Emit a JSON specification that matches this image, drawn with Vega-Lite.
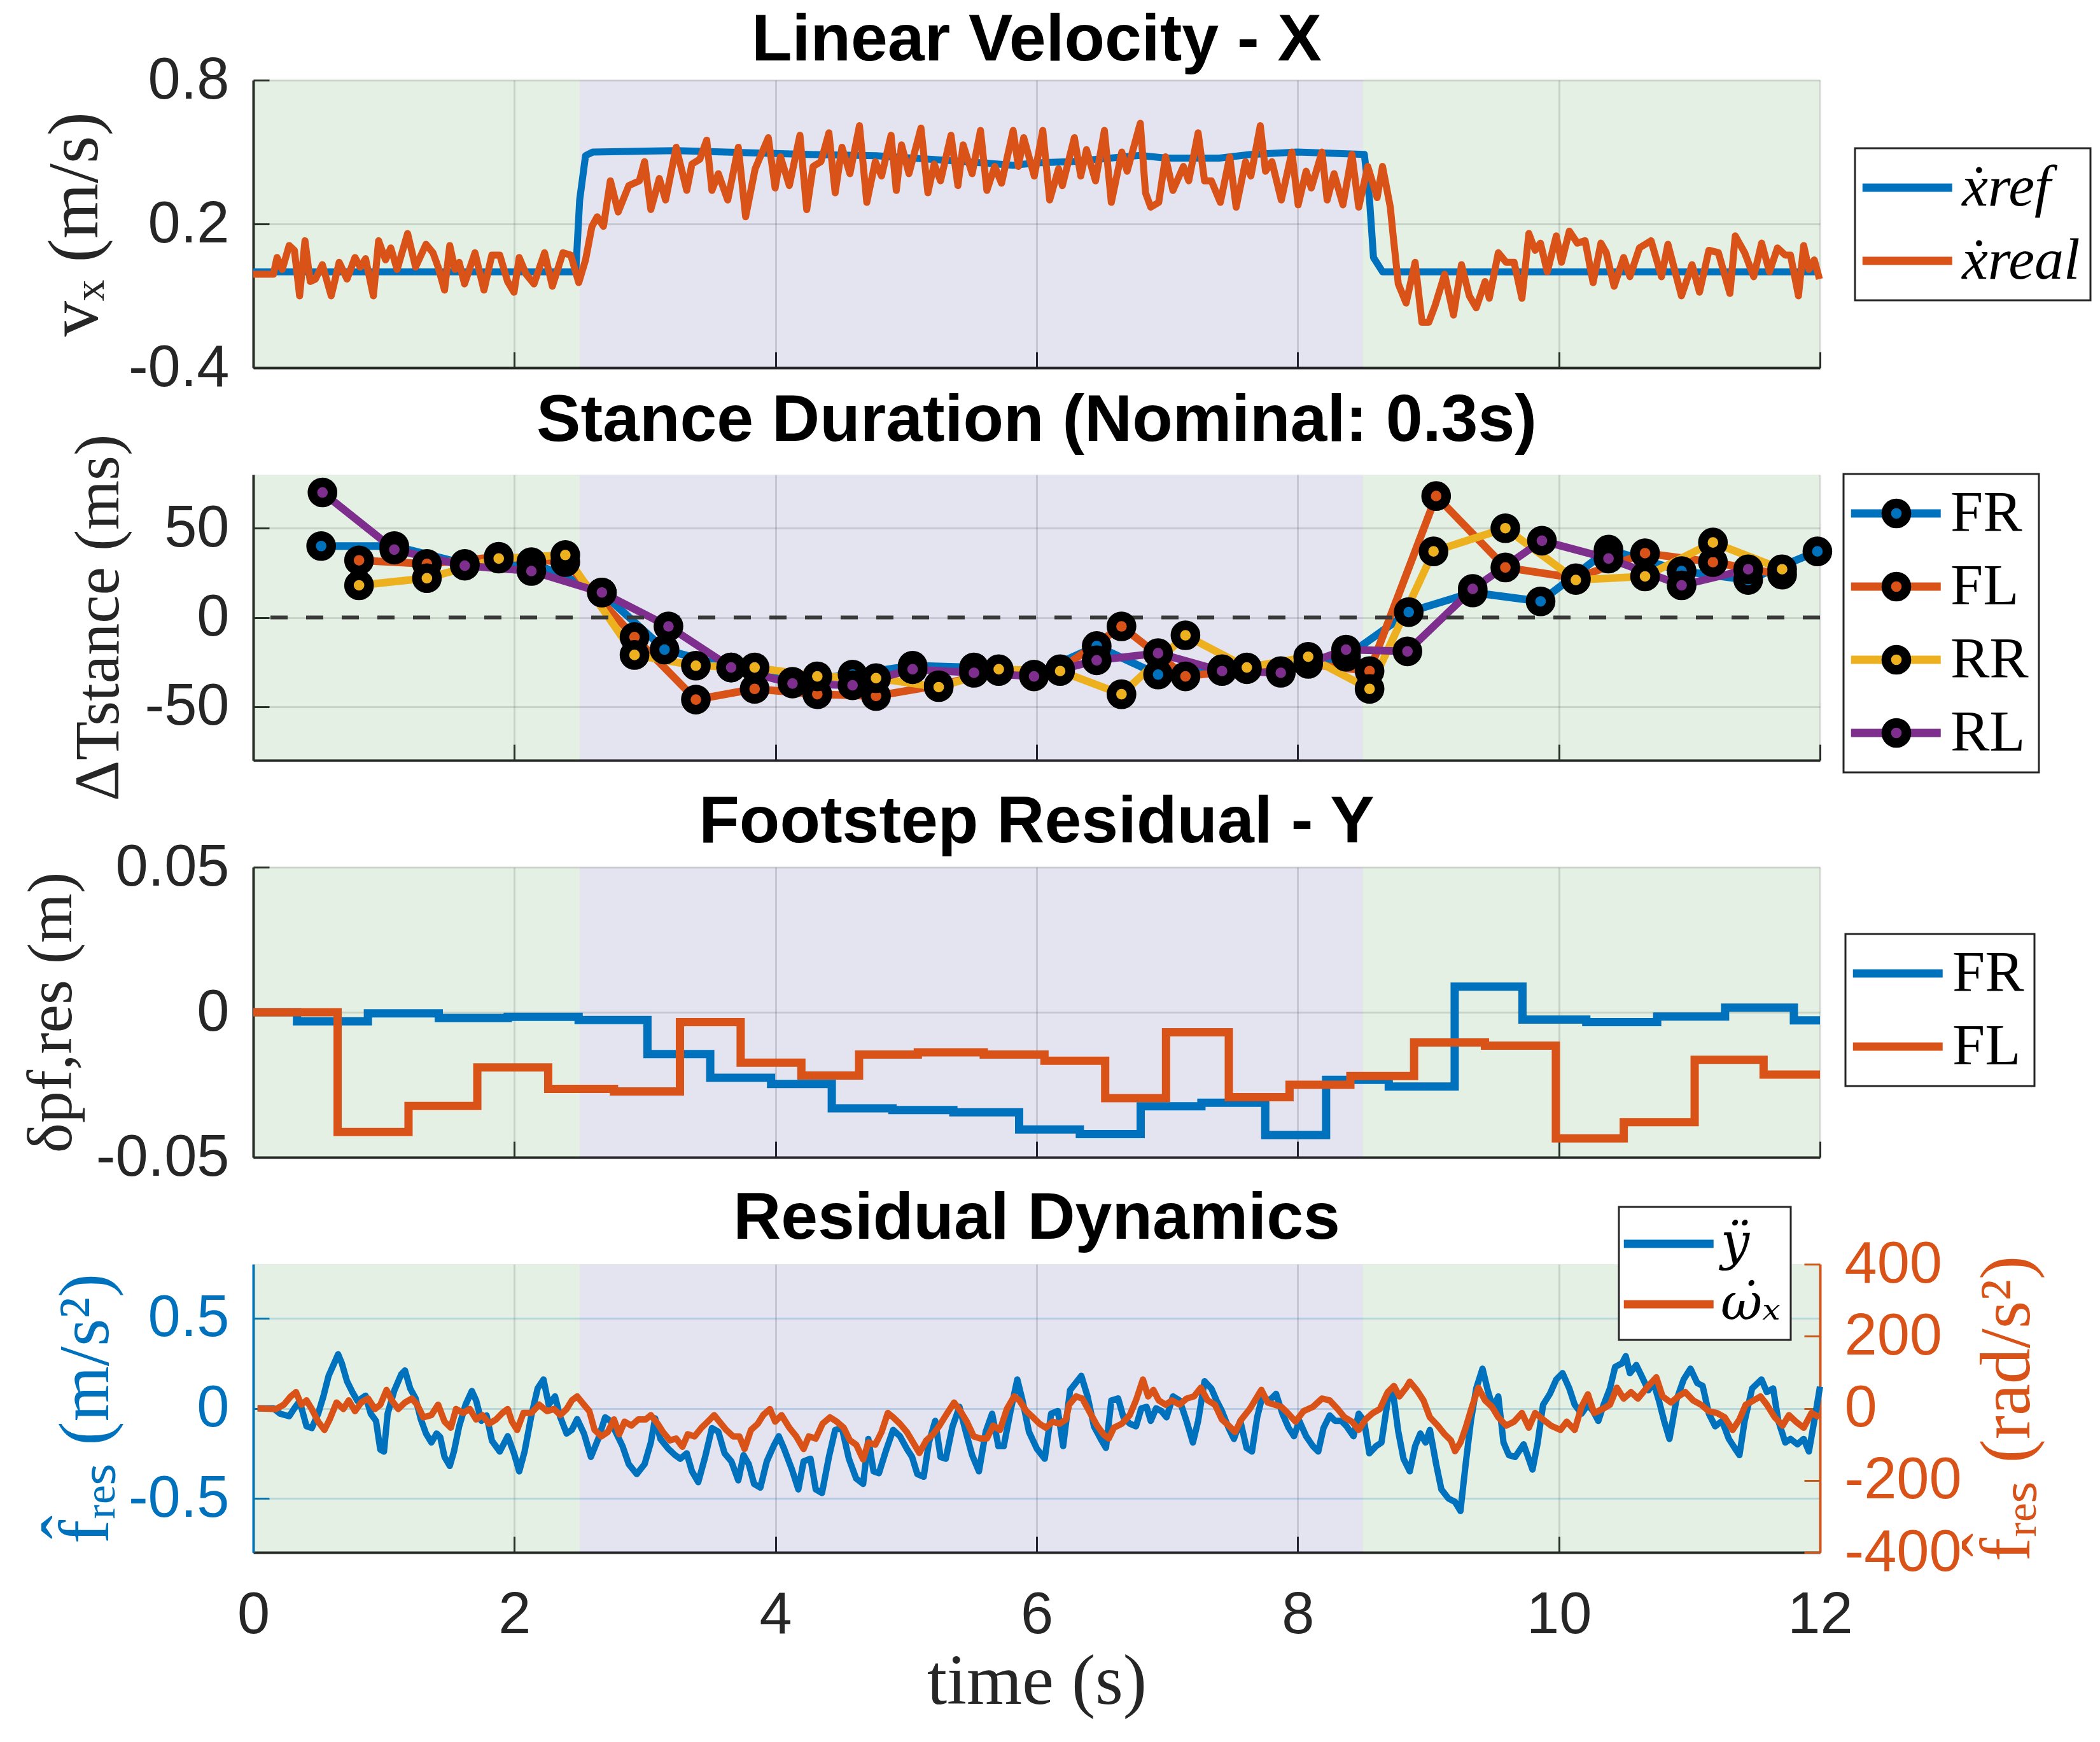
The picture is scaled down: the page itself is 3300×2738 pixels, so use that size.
{
"$schema":"https://vega.github.io/schema/vega-lite/v6.json",
"background":"white",
"padding":{"left":31,"top":12,"right":10,"bottom":40},
"config":{
 "font":"Liberation Sans",
 "view":{"stroke":null},
 "axis":{"domainColor":"#262626","domainWidth":4,"tickColor":"#262626","tickWidth":3,"tickSize":-25,"labelFont":"Liberation Sans","labelFontSize":92,"labelColor":"#262626","labelLimit":0,"gridColor":"#262626","gridOpacity":0.15,"gridWidth":3,"titleFont":"Liberation Serif","titleFontSize":112,"titleFontWeight":"normal","titleColor":"#262626"},
 "axisY":{"labelPadding":63,"titlePadding":8},
 "axisX":{"labelPadding":78,"titlePadding":5,"labelFlush":false},
 "title":{"font":"Liberation Sans","fontSize":104,"fontWeight":"bold","color":"black","anchor":"middle","frame":"group"},
 "legend":{"orient":"none","strokeColor":"#262626","strokeWidth":3,"fillColor":"white","padding":16,"labelFont":"Liberation Serif","labelFontSize":92,"labelColor":"black","rowPadding":23,"labelLimit":0,"symbolType":"M-1,0L3,0","symbolSize":4970,"symbolStrokeWidth":13,"symbolOffset":-15,"labelOffset":75,"symbolOpacity":1}
},
"datasets":{
 "phases":[{"t0":0,"t1":2.5,"phase":"stand"},{"t0":2.5,"t1":8.5,"phase":"walk"},{"t0":8.5,"t1":12,"phase":"stand"}],
 "vx_ref":[{"t":0,"v":0},{"t":2.47,"v":0},{"t":2.5,"v":0.3},{"t":2.545,"v":0.485},{"t":2.6,"v":0.5},{"t":3.24,"v":0.506},{"t":4.25,"v":0.49},{"t":4.77,"v":0.485},{"t":5.38,"v":0.463},{"t":5.82,"v":0.445},{"t":6.0,"v":0.455},{"t":6.27,"v":0.46},{"t":6.79,"v":0.486},{"t":6.99,"v":0.475},{"t":7.4,"v":0.475},{"t":7.64,"v":0.49},{"t":8.0,"v":0.5},{"t":8.51,"v":0.49},{"t":8.55,"v":0.3},{"t":8.58,"v":0.06},{"t":8.65,"v":0},{"t":12,"v":0}],
 "vx_real":[{"t":0,"v":-0.01},{"t":0.154,"v":-0.01},{"t":0.182,"v":0.06},{"t":0.222,"v":0.01},{"t":0.275,"v":0.11},{"t":0.315,"v":0.09},{"t":0.355,"v":-0.1},{"t":0.396,"v":0.13},{"t":0.436,"v":-0.04},{"t":0.476,"v":-0.03},{"t":0.529,"v":0.03},{"t":0.597,"v":-0.1},{"t":0.658,"v":0.04},{"t":0.718,"v":-0.03},{"t":0.779,"v":0.06},{"t":0.819,"v":0.02},{"t":0.86,"v":0.055},{"t":0.92,"v":-0.1},{"t":0.96,"v":0.13},{"t":1.013,"v":0.05},{"t":1.053,"v":0.1},{"t":1.102,"v":0.01},{"t":1.182,"v":0.16},{"t":1.243,"v":0.02},{"t":1.323,"v":0.115},{"t":1.376,"v":0.08},{"t":1.416,"v":0.02},{"t":1.465,"v":-0.076},{"t":1.505,"v":0.11},{"t":1.545,"v":0.01},{"t":1.577,"v":0.04},{"t":1.618,"v":-0.05},{"t":1.698,"v":0.08},{"t":1.767,"v":-0.076},{"t":1.827,"v":0.07},{"t":1.888,"v":0.07},{"t":1.948,"v":-0.04},{"t":1.997,"v":-0.085},{"t":2.037,"v":0.06},{"t":2.09,"v":-0.01},{"t":2.15,"v":-0.05},{"t":2.231,"v":0.08},{"t":2.291,"v":-0.06},{"t":2.372,"v":0.08},{"t":2.432,"v":0.07},{"t":2.493,"v":-0.045},{"t":2.545,"v":0.05},{"t":2.594,"v":0.19},{"t":2.634,"v":0.23},{"t":2.682,"v":0.19},{"t":2.735,"v":0.38},{"t":2.795,"v":0.25},{"t":2.876,"v":0.36},{"t":2.957,"v":0.38},{"t":2.997,"v":0.46},{"t":3.045,"v":0.26},{"t":3.11,"v":0.39},{"t":3.158,"v":0.3},{"t":3.239,"v":0.52},{"t":3.32,"v":0.34},{"t":3.36,"v":0.45},{"t":3.42,"v":0.47},{"t":3.473,"v":0.55},{"t":3.513,"v":0.34},{"t":3.562,"v":0.41},{"t":3.634,"v":0.3},{"t":3.715,"v":0.52},{"t":3.771,"v":0.23},{"t":3.844,"v":0.43},{"t":3.945,"v":0.56},{"t":3.997,"v":0.35},{"t":4.038,"v":0.48},{"t":4.106,"v":0.36},{"t":4.187,"v":0.57},{"t":4.239,"v":0.26},{"t":4.288,"v":0.44},{"t":4.348,"v":0.46},{"t":4.409,"v":0.58},{"t":4.457,"v":0.33},{"t":4.509,"v":0.52},{"t":4.57,"v":0.41},{"t":4.643,"v":0.61},{"t":4.699,"v":0.29},{"t":4.764,"v":0.46},{"t":4.812,"v":0.4},{"t":4.885,"v":0.57},{"t":4.925,"v":0.34},{"t":4.965,"v":0.53},{"t":5.022,"v":0.41},{"t":5.114,"v":0.6},{"t":5.167,"v":0.33},{"t":5.215,"v":0.45},{"t":5.264,"v":0.38},{"t":5.344,"v":0.57},{"t":5.397,"v":0.36},{"t":5.437,"v":0.53},{"t":5.506,"v":0.41},{"t":5.57,"v":0.59},{"t":5.619,"v":0.34},{"t":5.679,"v":0.44},{"t":5.731,"v":0.37},{"t":5.82,"v":0.59},{"t":5.86,"v":0.44},{"t":5.901,"v":0.56},{"t":5.982,"v":0.4},{"t":6.047,"v":0.59},{"t":6.1,"v":0.3},{"t":6.168,"v":0.43},{"t":6.197,"v":0.36},{"t":6.289,"v":0.56},{"t":6.338,"v":0.4},{"t":6.382,"v":0.51},{"t":6.451,"v":0.38},{"t":6.519,"v":0.59},{"t":6.572,"v":0.29},{"t":6.652,"v":0.5},{"t":6.693,"v":0.42},{"t":6.794,"v":0.62},{"t":6.834,"v":0.33},{"t":6.874,"v":0.27},{"t":6.935,"v":0.29},{"t":6.987,"v":0.48},{"t":7.044,"v":0.34},{"t":7.124,"v":0.44},{"t":7.165,"v":0.38},{"t":7.237,"v":0.58},{"t":7.286,"v":0.38},{"t":7.338,"v":0.38},{"t":7.407,"v":0.29},{"t":7.479,"v":0.48},{"t":7.528,"v":0.27},{"t":7.6,"v":0.46},{"t":7.641,"v":0.4},{"t":7.713,"v":0.61},{"t":7.753,"v":0.42},{"t":7.802,"v":0.46},{"t":7.874,"v":0.3},{"t":7.955,"v":0.5},{"t":8.003,"v":0.28},{"t":8.064,"v":0.42},{"t":8.104,"v":0.35},{"t":8.185,"v":0.5},{"t":8.225,"v":0.3},{"t":8.278,"v":0.41},{"t":8.346,"v":0.28},{"t":8.415,"v":0.49},{"t":8.467,"v":0.27},{"t":8.536,"v":0.44},{"t":8.608,"v":0.31},{"t":8.649,"v":0.44},{"t":8.709,"v":0.27},{"t":8.729,"v":0.16},{"t":8.77,"v":-0.05},{"t":8.83,"v":-0.13},{"t":8.899,"v":0.04},{"t":8.951,"v":-0.21},{"t":9.004,"v":-0.21},{"t":9.052,"v":-0.14},{"t":9.125,"v":-0.01},{"t":9.193,"v":-0.18},{"t":9.254,"v":0.03},{"t":9.314,"v":-0.1},{"t":9.367,"v":-0.15},{"t":9.435,"v":-0.04},{"t":9.467,"v":-0.11},{"t":9.536,"v":0.08},{"t":9.596,"v":0.04},{"t":9.657,"v":0.04},{"t":9.717,"v":-0.11},{"t":9.77,"v":0.16},{"t":9.818,"v":0.09},{"t":9.859,"v":0.12},{"t":9.911,"v":0},{"t":9.98,"v":0.15},{"t":10.02,"v":0.04},{"t":10.08,"v":0.17},{"t":10.141,"v":0.12},{"t":10.201,"v":0.13},{"t":10.262,"v":-0.045},{"t":10.322,"v":0.12},{"t":10.363,"v":0.08},{"t":10.423,"v":-0.06},{"t":10.496,"v":0.06},{"t":10.544,"v":-0.02},{"t":10.617,"v":0.1},{"t":10.706,"v":0.13},{"t":10.786,"v":-0.02},{"t":10.835,"v":0.115},{"t":10.939,"v":-0.1},{"t":11.02,"v":0.03},{"t":11.077,"v":-0.085},{"t":11.149,"v":0.09},{"t":11.222,"v":0.08},{"t":11.31,"v":-0.09},{"t":11.351,"v":0.15},{"t":11.423,"v":0.08},{"t":11.492,"v":-0.02},{"t":11.553,"v":0.12},{"t":11.613,"v":0},{"t":11.674,"v":0.1},{"t":11.734,"v":0.07},{"t":11.774,"v":0.07},{"t":11.835,"v":-0.1},{"t":11.875,"v":0.11},{"t":11.915,"v":0.01},{"t":11.956,"v":0.05},{"t":11.996,"v":-0.03}],
 "stance":[
  {"t":0.52,"v":40,"leg":"FR"},{"t":1.08,"v":40,"leg":"FR"},{"t":1.62,"v":30,"leg":"FR"},{"t":2.13,"v":31,"leg":"FR"},{"t":2.67,"v":14,"leg":"FR"},{"t":3.15,"v":-18,"leg":"FR"},{"t":3.66,"v":-28,"leg":"FR"},{"t":4.13,"v":-36,"leg":"FR"},{"t":4.59,"v":-32,"leg":"FR"},{"t":5.05,"v":-27,"leg":"FR"},{"t":5.52,"v":-28,"leg":"FR"},{"t":5.98,"v":-32,"leg":"FR"},{"t":6.46,"v":-16,"leg":"FR"},{"t":6.93,"v":-32,"leg":"FR"},{"t":7.42,"v":-29,"leg":"FR"},{"t":7.87,"v":-30,"leg":"FR"},{"t":8.37,"v":-22,"leg":"FR"},{"t":8.85,"v":3,"leg":"FR"},{"t":9.34,"v":14,"leg":"FR"},{"t":9.86,"v":9,"leg":"FR"},{"t":10.38,"v":38,"leg":"FR"},{"t":10.94,"v":26,"leg":"FR"},{"t":11.45,"v":21,"leg":"FR"},{"t":11.98,"v":37,"leg":"FR"},
  {"t":0.81,"v":32,"leg":"FL"},{"t":1.33,"v":30,"leg":"FL"},{"t":1.88,"v":34,"leg":"FL"},{"t":2.39,"v":31,"leg":"FL"},{"t":2.92,"v":-11,"leg":"FL"},{"t":3.39,"v":-46,"leg":"FL"},{"t":3.84,"v":-40,"leg":"FL"},{"t":4.32,"v":-43,"leg":"FL"},{"t":4.77,"v":-44,"leg":"FL"},{"t":5.25,"v":-38,"leg":"FL"},{"t":5.71,"v":-30,"leg":"FL"},{"t":6.18,"v":-29,"leg":"FL"},{"t":6.65,"v":-5,"leg":"FL"},{"t":7.14,"v":-33,"leg":"FL"},{"t":7.61,"v":-29,"leg":"FL"},{"t":8.08,"v":-26,"leg":"FL"},{"t":8.55,"v":-30,"leg":"FL"},{"t":9.06,"v":68,"leg":"FL"},{"t":9.59,"v":28,"leg":"FL"},{"t":10.13,"v":22,"leg":"FL"},{"t":10.66,"v":36,"leg":"FL"},{"t":11.18,"v":31,"leg":"FL"},{"t":11.71,"v":24,"leg":"FL"},
  {"t":0.81,"v":18,"leg":"RR"},{"t":1.33,"v":22,"leg":"RR"},{"t":1.88,"v":33,"leg":"RR"},{"t":2.39,"v":35,"leg":"RR"},{"t":2.92,"v":-21,"leg":"RR"},{"t":3.39,"v":-27,"leg":"RR"},{"t":3.84,"v":-28,"leg":"RR"},{"t":4.32,"v":-33,"leg":"RR"},{"t":4.77,"v":-34,"leg":"RR"},{"t":5.25,"v":-39,"leg":"RR"},{"t":5.71,"v":-29,"leg":"RR"},{"t":6.18,"v":-30,"leg":"RR"},{"t":6.65,"v":-43,"leg":"RR"},{"t":7.14,"v":-10,"leg":"RR"},{"t":7.61,"v":-28,"leg":"RR"},{"t":8.08,"v":-22,"leg":"RR"},{"t":8.55,"v":-40,"leg":"RR"},{"t":9.04,"v":37,"leg":"RR"},{"t":9.59,"v":50,"leg":"RR"},{"t":10.13,"v":21,"leg":"RR"},{"t":10.66,"v":23,"leg":"RR"},{"t":11.18,"v":42,"leg":"RR"},{"t":11.71,"v":27,"leg":"RR"},
  {"t":0.53,"v":70,"leg":"RL"},{"t":1.08,"v":38,"leg":"RL"},{"t":1.62,"v":29,"leg":"RL"},{"t":2.13,"v":26,"leg":"RL"},{"t":2.67,"v":14,"leg":"RL"},{"t":3.18,"v":-5,"leg":"RL"},{"t":3.66,"v":-28,"leg":"RL"},{"t":4.13,"v":-37,"leg":"RL"},{"t":4.59,"v":-38,"leg":"RL"},{"t":5.05,"v":-29,"leg":"RL"},{"t":5.52,"v":-31,"leg":"RL"},{"t":5.98,"v":-33,"leg":"RL"},{"t":6.46,"v":-24,"leg":"RL"},{"t":6.93,"v":-20,"leg":"RL"},{"t":7.42,"v":-30,"leg":"RL"},{"t":7.87,"v":-31,"leg":"RL"},{"t":8.37,"v":-18,"leg":"RL"},{"t":8.84,"v":-19,"leg":"RL"},{"t":9.34,"v":16,"leg":"RL"},{"t":9.87,"v":43,"leg":"RL"},{"t":10.38,"v":33,"leg":"RL"},{"t":10.94,"v":18,"leg":"RL"},{"t":11.45,"v":27,"leg":"RL"}],
 "foot_fr":[{"t":0,"v":0},{"t":0.335,"v":-0.0031},{"t":0.878,"v":-0.0004},{"t":1.421,"v":-0.002},{"t":1.949,"v":-0.0016},{"t":2.492,"v":-0.0027},{"t":3.019,"v":-0.0144},{"t":3.5,"v":-0.0226},{"t":3.966,"v":-0.0247},{"t":4.431,"v":-0.0331},{"t":4.896,"v":-0.0337},{"t":5.362,"v":-0.0345},{"t":5.866,"v":-0.0404},{"t":6.331,"v":-0.042},{"t":6.797,"v":-0.0324},{"t":7.262,"v":-0.0312},{"t":7.751,"v":-0.0423},{"t":8.217,"v":-0.0233},{"t":8.697,"v":-0.0256},{"t":9.202,"v":0.0088},{"t":9.721,"v":-0.0025},{"t":10.21,"v":-0.0034},{"t":10.753,"v":-0.0015},{"t":11.273,"v":0.0016},{"t":11.8,"v":-0.0028},{"t":12,"v":-0.0028}],
 "foot_fl":[{"t":0,"v":0},{"t":0.646,"v":-0.0413},{"t":1.189,"v":-0.0323},{"t":1.716,"v":-0.019},{"t":2.259,"v":-0.0264},{"t":2.763,"v":-0.0273},{"t":3.268,"v":-0.0034},{"t":3.733,"v":-0.0174},{"t":4.198,"v":-0.0218},{"t":4.64,"v":-0.0146},{"t":5.09,"v":-0.0138},{"t":5.595,"v":-0.0146},{"t":6.06,"v":-0.0167},{"t":6.525,"v":-0.0296},{"t":6.991,"v":-0.0069},{"t":7.472,"v":-0.0293},{"t":7.937,"v":-0.025},{"t":8.403,"v":-0.022},{"t":8.891,"v":-0.0104},{"t":9.434,"v":-0.0115},{"t":9.977,"v":-0.0435},{"t":10.497,"v":-0.0379},{"t":11.04,"v":-0.0164},{"t":11.568,"v":-0.0215},{"t":12,"v":-0.0215}],
 "dyn_y":[{"t":0.033,"v":0},{"t":0.154,"v":0},{"t":0.206,"v":-0.03},{"t":0.275,"v":-0.044},{"t":0.315,"v":0},{"t":0.355,"v":0.04},{"t":0.408,"v":-0.1},{"t":0.448,"v":-0.11},{"t":0.497,"v":-0.03},{"t":0.537,"v":0.066},{"t":0.577,"v":0.18},{"t":0.626,"v":0.26},{"t":0.65,"v":0.3},{"t":0.678,"v":0.25},{"t":0.718,"v":0.15},{"t":0.759,"v":0.09},{"t":0.799,"v":0.04},{"t":0.86,"v":0.07},{"t":0.9,"v":-0.03},{"t":0.94,"v":-0.07},{"t":0.973,"v":-0.23},{"t":1.001,"v":-0.24},{"t":1.029,"v":-0.03},{"t":1.081,"v":0.1},{"t":1.134,"v":0.19},{"t":1.162,"v":0.21},{"t":1.202,"v":0.11},{"t":1.243,"v":0.055},{"t":1.283,"v":-0.06},{"t":1.323,"v":-0.14},{"t":1.364,"v":-0.19},{"t":1.404,"v":-0.14},{"t":1.432,"v":-0.16},{"t":1.465,"v":-0.27},{"t":1.505,"v":-0.32},{"t":1.537,"v":-0.24},{"t":1.577,"v":-0.1},{"t":1.626,"v":0.02},{"t":1.674,"v":0.096},{"t":1.707,"v":0.043},{"t":1.747,"v":-0.07},{"t":1.787,"v":-0.04},{"t":1.828,"v":-0.18},{"t":1.888,"v":-0.24},{"t":1.949,"v":-0.155},{"t":1.997,"v":-0.25},{"t":2.037,"v":-0.35},{"t":2.078,"v":-0.24},{"t":2.13,"v":-0.04},{"t":2.178,"v":0.11},{"t":2.223,"v":0.16},{"t":2.263,"v":0.02},{"t":2.311,"v":0.066},{"t":2.352,"v":-0.05},{"t":2.4,"v":-0.14},{"t":2.44,"v":-0.12},{"t":2.481,"v":-0.06},{"t":2.533,"v":-0.14},{"t":2.586,"v":-0.27},{"t":2.642,"v":-0.17},{"t":2.695,"v":-0.05},{"t":2.735,"v":-0.07},{"t":2.775,"v":-0.13},{"t":2.828,"v":-0.21},{"t":2.876,"v":-0.31},{"t":2.937,"v":-0.365},{"t":2.997,"v":-0.31},{"t":3.045,"v":-0.19},{"t":3.078,"v":-0.056},{"t":3.118,"v":-0.17},{"t":3.179,"v":-0.225},{"t":3.231,"v":-0.26},{"t":3.271,"v":-0.28},{"t":3.32,"v":-0.25},{"t":3.36,"v":-0.35},{"t":3.408,"v":-0.41},{"t":3.461,"v":-0.27},{"t":3.513,"v":-0.11},{"t":3.562,"v":-0.13},{"t":3.61,"v":-0.25},{"t":3.662,"v":-0.295},{"t":3.715,"v":-0.4},{"t":3.755,"v":-0.26},{"t":3.795,"v":-0.31},{"t":3.836,"v":-0.42},{"t":3.884,"v":-0.44},{"t":3.933,"v":-0.295},{"t":3.985,"v":-0.21},{"t":4.025,"v":-0.155},{"t":4.066,"v":-0.225},{"t":4.126,"v":-0.34},{"t":4.175,"v":-0.45},{"t":4.215,"v":-0.295},{"t":4.268,"v":-0.28},{"t":4.308,"v":-0.45},{"t":4.356,"v":-0.47},{"t":4.409,"v":-0.27},{"t":4.457,"v":-0.12},{"t":4.509,"v":-0.11},{"t":4.562,"v":-0.28},{"t":4.618,"v":-0.39},{"t":4.671,"v":-0.42},{"t":4.711,"v":-0.17},{"t":4.751,"v":-0.35},{"t":4.792,"v":-0.36},{"t":4.844,"v":-0.24},{"t":4.901,"v":-0.12},{"t":4.953,"v":-0.155},{"t":5.006,"v":-0.225},{"t":5.046,"v":-0.27},{"t":5.086,"v":-0.365},{"t":5.135,"v":-0.38},{"t":5.175,"v":-0.19},{"t":5.223,"v":-0.07},{"t":5.264,"v":-0.27},{"t":5.304,"v":-0.28},{"t":5.356,"v":-0.1},{"t":5.409,"v":0.008},{"t":5.457,"v":-0.13},{"t":5.506,"v":-0.26},{"t":5.558,"v":-0.35},{"t":5.61,"v":-0.13},{"t":5.659,"v":-0.03},{"t":5.707,"v":-0.21},{"t":5.748,"v":-0.21},{"t":5.8,"v":-0.015},{"t":5.852,"v":0.16},{"t":5.893,"v":0.04},{"t":5.941,"v":-0.13},{"t":6.002,"v":-0.225},{"t":6.062,"v":-0.28},{"t":6.111,"v":-0.03},{"t":6.163,"v":-0.015},{"t":6.203,"v":-0.21},{"t":6.256,"v":0.1},{"t":6.342,"v":0.18},{"t":6.39,"v":0.066},{"t":6.439,"v":-0.1},{"t":6.491,"v":-0.17},{"t":6.531,"v":-0.22},{"t":6.572,"v":0.043},{"t":6.624,"v":0.055},{"t":6.665,"v":-0.05},{"t":6.713,"v":-0.085},{"t":6.761,"v":-0.1},{"t":6.802,"v":0},{"t":6.842,"v":0.008},{"t":6.874,"v":-0.07},{"t":6.915,"v":0},{"t":6.955,"v":-0.015},{"t":6.995,"v":-0.05},{"t":7.044,"v":0.066},{"t":7.096,"v":0.043},{"t":7.148,"v":-0.07},{"t":7.197,"v":-0.19},{"t":7.237,"v":-0.07},{"t":7.286,"v":0.15},{"t":7.338,"v":0.11},{"t":7.378,"v":0.043},{"t":7.419,"v":-0.015},{"t":7.471,"v":-0.11},{"t":7.511,"v":-0.17},{"t":7.56,"v":-0.07},{"t":7.608,"v":-0.22},{"t":7.649,"v":-0.24},{"t":7.689,"v":-0.05},{"t":7.729,"v":0.066},{"t":7.782,"v":0.043},{"t":7.834,"v":0.08},{"t":7.883,"v":-0.03},{"t":7.931,"v":-0.11},{"t":7.971,"v":-0.155},{"t":8.012,"v":-0.07},{"t":8.064,"v":-0.155},{"t":8.116,"v":-0.21},{"t":8.157,"v":-0.24},{"t":8.197,"v":-0.11},{"t":8.245,"v":-0.04},{"t":8.286,"v":-0.07},{"t":8.334,"v":-0.07},{"t":8.374,"v":-0.1},{"t":8.427,"v":-0.155},{"t":8.467,"v":-0.03},{"t":8.508,"v":-0.07},{"t":8.548,"v":-0.25},{"t":8.6,"v":-0.21},{"t":8.641,"v":-0.19},{"t":8.689,"v":0.043},{"t":8.729,"v":0.09},{"t":8.77,"v":-0.13},{"t":8.81,"v":-0.28},{"t":8.858,"v":-0.35},{"t":8.899,"v":-0.21},{"t":8.939,"v":-0.14},{"t":8.979,"v":-0.19},{"t":9.012,"v":-0.12},{"t":9.06,"v":-0.31},{"t":9.1,"v":-0.45},{"t":9.153,"v":-0.5},{"t":9.205,"v":-0.52},{"t":9.246,"v":-0.57},{"t":9.286,"v":-0.31},{"t":9.326,"v":-0.07},{"t":9.367,"v":0.11},{"t":9.415,"v":0.22},{"t":9.455,"v":0.1},{"t":9.496,"v":0},{"t":9.536,"v":0.066},{"t":9.576,"v":-0.19},{"t":9.617,"v":-0.26},{"t":9.665,"v":-0.27},{"t":9.73,"v":-0.2},{"t":9.798,"v":-0.34},{"t":9.838,"v":-0.19},{"t":9.879,"v":0.02},{"t":9.931,"v":0.08},{"t":9.98,"v":0.16},{"t":10.028,"v":0.195},{"t":10.08,"v":0.11},{"t":10.121,"v":0.02},{"t":10.173,"v":-0.03},{"t":10.222,"v":0.02},{"t":10.262,"v":-0.015},{"t":10.302,"v":-0.07},{"t":10.343,"v":0.02},{"t":10.391,"v":0.11},{"t":10.431,"v":0.23},{"t":10.484,"v":0.25},{"t":10.512,"v":0.29},{"t":10.544,"v":0.195},{"t":10.593,"v":0.24},{"t":10.633,"v":0.18},{"t":10.685,"v":0.1},{"t":10.726,"v":0.14},{"t":10.766,"v":0.043},{"t":10.806,"v":-0.07},{"t":10.847,"v":-0.17},{"t":10.899,"v":0.043},{"t":10.956,"v":0.16},{"t":11.008,"v":0.22},{"t":11.06,"v":0.14},{"t":11.101,"v":0.125},{"t":11.149,"v":-0.03},{"t":11.197,"v":-0.1},{"t":11.25,"v":-0.07},{"t":11.302,"v":-0.17},{"t":11.351,"v":-0.225},{"t":11.383,"v":-0.26},{"t":11.423,"v":-0.07},{"t":11.48,"v":0.11},{"t":11.552,"v":0.16},{"t":11.593,"v":0.09},{"t":11.641,"v":0.11},{"t":11.681,"v":-0.07},{"t":11.734,"v":-0.19},{"t":11.774,"v":-0.17},{"t":11.827,"v":-0.2},{"t":11.875,"v":-0.17},{"t":11.915,"v":-0.24},{"t":11.956,"v":-0.07},{"t":12,"v":0.12}],
 "dyn_w":[{"t":0.033,"w":0},{"t":0.174,"w":-2},{"t":0.234,"w":10},{"t":0.287,"w":33},{"t":0.327,"w":45},{"t":0.368,"w":10},{"t":0.408,"w":22},{"t":0.448,"w":-2},{"t":0.497,"w":-37},{"t":0.545,"w":-60},{"t":0.585,"w":-31},{"t":0.638,"w":16},{"t":0.69,"w":-2},{"t":0.731,"w":22},{"t":0.779,"w":-8},{"t":0.827,"w":16},{"t":0.88,"w":27},{"t":0.932,"w":-2},{"t":0.973,"w":10},{"t":1.021,"w":51},{"t":1.061,"w":22},{"t":1.11,"w":-2},{"t":1.162,"w":16},{"t":1.215,"w":27},{"t":1.255,"w":10},{"t":1.303,"w":-25},{"t":1.364,"w":-19},{"t":1.416,"w":10},{"t":1.465,"w":-37},{"t":1.513,"w":-54},{"t":1.553,"w":-2},{"t":1.606,"w":-13},{"t":1.658,"w":-2},{"t":1.707,"w":-31},{"t":1.755,"w":-19},{"t":1.807,"w":-43},{"t":1.86,"w":-31},{"t":1.908,"w":-13},{"t":1.949,"w":-2},{"t":1.981,"w":-37},{"t":2.021,"w":-60},{"t":2.069,"w":-13},{"t":2.13,"w":-13},{"t":2.19,"w":10},{"t":2.251,"w":-8},{"t":2.303,"w":-2},{"t":2.352,"w":-19},{"t":2.4,"w":-2},{"t":2.44,"w":22},{"t":2.481,"w":33},{"t":2.533,"w":10},{"t":2.574,"w":-8},{"t":2.614,"w":-60},{"t":2.666,"w":-78},{"t":2.715,"w":-66},{"t":2.763,"w":-31},{"t":2.803,"w":-72},{"t":2.844,"w":-37},{"t":2.896,"w":-48},{"t":2.949,"w":-31},{"t":3.005,"w":-31},{"t":3.045,"w":-19},{"t":3.098,"w":-43},{"t":3.138,"w":-66},{"t":3.191,"w":-89},{"t":3.239,"w":-84},{"t":3.287,"w":-107},{"t":3.328,"w":-72},{"t":3.38,"w":-78},{"t":3.433,"w":-54},{"t":3.481,"w":-37},{"t":3.53,"w":-19},{"t":3.57,"w":-37},{"t":3.622,"w":-60},{"t":3.675,"w":-78},{"t":3.723,"w":-78},{"t":3.763,"w":-113},{"t":3.812,"w":-60},{"t":3.864,"w":-43},{"t":3.905,"w":-19},{"t":3.957,"w":-2},{"t":3.997,"w":-37},{"t":4.046,"w":-19},{"t":4.106,"w":-54},{"t":4.159,"w":-78},{"t":4.215,"w":-113},{"t":4.255,"w":-78},{"t":4.308,"w":-84},{"t":4.36,"w":-43},{"t":4.417,"w":-25},{"t":4.469,"w":-37},{"t":4.522,"w":-54},{"t":4.57,"w":-89},{"t":4.618,"w":-101},{"t":4.671,"w":-142},{"t":4.711,"w":-95},{"t":4.764,"w":-101},{"t":4.812,"w":-66},{"t":4.86,"w":-13},{"t":4.901,"w":-25},{"t":4.953,"w":-43},{"t":5.006,"w":-66},{"t":5.054,"w":-95},{"t":5.102,"w":-124},{"t":5.155,"w":-89},{"t":5.207,"w":-72},{"t":5.256,"w":-48},{"t":5.316,"w":-13},{"t":5.368,"w":16},{"t":5.417,"w":-8},{"t":5.465,"w":-37},{"t":5.518,"w":-78},{"t":5.57,"w":-84},{"t":5.619,"w":-84},{"t":5.667,"w":-48},{"t":5.719,"w":-60},{"t":5.772,"w":-2},{"t":5.828,"w":33},{"t":5.868,"w":22},{"t":5.921,"w":-8},{"t":5.973,"w":-25},{"t":6.022,"w":-43},{"t":6.07,"w":-54},{"t":6.123,"w":-37},{"t":6.175,"w":-43},{"t":6.224,"w":-31},{"t":6.249,"w":10},{"t":6.302,"w":33},{"t":6.35,"w":27},{"t":6.41,"w":-13},{"t":6.463,"w":-48},{"t":6.511,"w":-72},{"t":6.552,"w":-84},{"t":6.592,"w":-54},{"t":6.652,"w":-43},{"t":6.713,"w":-19},{"t":6.761,"w":22},{"t":6.814,"w":80},{"t":6.854,"w":33},{"t":6.894,"w":51},{"t":6.935,"w":22},{"t":6.987,"w":10},{"t":7.036,"w":22},{"t":7.096,"w":10},{"t":7.148,"w":27},{"t":7.205,"w":33},{"t":7.257,"w":57},{"t":7.31,"w":22},{"t":7.366,"w":10},{"t":7.419,"w":-31},{"t":7.471,"w":-48},{"t":7.52,"w":-66},{"t":7.568,"w":-31},{"t":7.632,"w":-2},{"t":7.681,"w":27},{"t":7.721,"w":51},{"t":7.77,"w":16},{"t":7.822,"w":10},{"t":7.874,"w":4},{"t":7.923,"w":-13},{"t":7.983,"w":-37},{"t":8.044,"w":-8},{"t":8.116,"w":4},{"t":8.185,"w":27},{"t":8.245,"w":22},{"t":8.306,"w":-2},{"t":8.358,"w":-25},{"t":8.415,"w":-37},{"t":8.467,"w":-60},{"t":8.52,"w":-31},{"t":8.576,"w":-13},{"t":8.629,"w":-2},{"t":8.689,"w":45},{"t":8.737,"w":62},{"t":8.778,"w":33},{"t":8.83,"w":57},{"t":8.858,"w":74},{"t":8.911,"w":51},{"t":8.963,"w":22},{"t":9.012,"w":-25},{"t":9.072,"w":-48},{"t":9.125,"w":-72},{"t":9.173,"w":-89},{"t":9.205,"w":-119},{"t":9.246,"w":-95},{"t":9.286,"w":-54},{"t":9.334,"w":4},{"t":9.383,"w":57},{"t":9.435,"w":22},{"t":9.488,"w":4},{"t":9.536,"w":-25},{"t":9.596,"w":-48},{"t":9.657,"w":-37},{"t":9.717,"w":-13},{"t":9.77,"w":-54},{"t":9.818,"w":-13},{"t":9.879,"w":-31},{"t":9.939,"w":-48},{"t":10.012,"w":-60},{"t":10.06,"w":-37},{"t":10.121,"w":-60},{"t":10.173,"w":4},{"t":10.222,"w":39},{"t":10.27,"w":-13},{"t":10.335,"w":-2},{"t":10.391,"w":10},{"t":10.444,"w":57},{"t":10.496,"w":27},{"t":10.553,"w":45},{"t":10.605,"w":27},{"t":10.673,"w":57},{"t":10.746,"w":86},{"t":10.794,"w":33},{"t":10.859,"w":16},{"t":10.915,"w":33},{"t":10.968,"w":45},{"t":11.028,"w":22},{"t":11.089,"w":10},{"t":11.149,"w":-8},{"t":11.21,"w":-13},{"t":11.27,"w":-25},{"t":11.331,"w":-60},{"t":11.383,"w":-31},{"t":11.431,"w":10},{"t":11.492,"w":22},{"t":11.544,"w":33},{"t":11.593,"w":10},{"t":11.653,"w":-25},{"t":11.714,"w":-48},{"t":11.762,"w":-19},{"t":11.815,"w":-37},{"t":11.875,"w":-54},{"t":11.935,"w":-13},{"t":11.996,"w":-25}]
},
"vconcat":[
  {"width":2462,"height":452,
   "title":{"text":"Linear Velocity - X","offset":-37},
   "layer":[
    {"data":{"name":"phases"},"transform":[{"filter":"datum.phase == 'stand'"}],"mark":{"type":"rect","color":"#268226","opacity":0.12},
     "encoding":{"x":{"field":"t0","type":"quantitative","title":null,"scale":{"domain":[0,12],"nice":false},"axis":{"values":[0,2,4,6,8,10,12],"labels":false,"title":null}},"x2":{"field":"t1"}}},
    {"data":{"name":"phases"},"transform":[{"filter":"datum.phase == 'walk'"}],"mark":{"type":"rect","color":"#1e1e82","opacity":0.12},
     "encoding":{"x":{"field":"t0","type":"quantitative","title":null},"x2":{"field":"t1"}}},
    {"data":{"name":"vx_ref"},"mark":{"type":"line","strokeWidth":11,"strokeJoin":"round"},
     "encoding":{"x":{"field":"t","type":"quantitative","title":null},
      "y":{"field":"v","type":"quantitative","title":"vₓ (m/s)","scale":{"domain":[-0.4,0.8],"nice":false,"zero":false},"axis":{"values":[-0.4,0.2,0.8],"title":"vₓ (m/s)","titlePadding":25,"labelExpr":"replace(format(datum.value, '.1f'), '\u2212', '-')"}},
      "color":{"datum":"ẋref","scale":{"domain":["ẋref","ẋreal"],"range":["#0072BD","#D95319"]},"legend":{"title":null,"legendX":2517,"legendY":107,"labelFontStyle":"italic"}}}},
    {"data":{"name":"vx_real"},"mark":{"type":"line","strokeWidth":11,"strokeJoin":"round"},
     "encoding":{"x":{"field":"t","type":"quantitative","title":null},"y":{"field":"v","type":"quantitative","title":"vₓ (m/s)"},"color":{"datum":"ẋreal"}}}
   ]},
  {"width":2462,"height":449,
   "title":{"text":"Stance Duration (Nominal: 0.3s)","offset":-33},
   "layer":[
    {"data":{"name":"phases"},"transform":[{"filter":"datum.phase == 'stand'"}],"mark":{"type":"rect","color":"#268226","opacity":0.12},
     "encoding":{"x":{"field":"t0","type":"quantitative","title":null,"scale":{"domain":[0,12],"nice":false},"axis":{"values":[0,2,4,6,8,10,12],"labels":false,"title":null}},"x2":{"field":"t1"}}},
    {"data":{"name":"phases"},"transform":[{"filter":"datum.phase == 'walk'"}],"mark":{"type":"rect","color":"#1e1e82","opacity":0.12},
     "encoding":{"x":{"field":"t0","type":"quantitative","title":null},"x2":{"field":"t1"}}},
    {"data":{"name":"stance"},"mark":{"type":"line","strokeWidth":12,"strokeJoin":"round"},
     "encoding":{"x":{"field":"t","type":"quantitative","title":null},
      "y":{"field":"v","type":"quantitative","title":"ΔTstance (ms)","scale":{"domain":[-80,80],"nice":false},"axis":{"values":[-50,0,50],"title":"ΔTstance (ms)","titleFontSize":100,"titlePadding":21,"labelExpr":"replace(format(datum.value, 'd'), '\u2212', '-')"}},
      "color":{"field":"leg","type":"nominal","scale":{"domain":["FR","FL","RR","RL"],"range":["#0072BD","#D95319","#EDB120","#7E2F8E"]},"legend":{"title":null,"legendX":2499,"legendY":-1,"zindex":1}}}},
    {"data":{"values":[{"ref":0}]},"mark":{"type":"rule","strokeDash":[27,29],"strokeWidth":6,"color":"#3a3a3a"},
     "encoding":{"y":{"field":"ref","type":"quantitative","title":"ΔTstance (ms)"}}},
    {"data":{"name":"stance"},"mark":{"type":"point","filled":true,"size":1000,"stroke":"black","strokeWidth":15,"opacity":1},
     "encoding":{"x":{"field":"t","type":"quantitative","title":null},"y":{"field":"v","type":"quantitative","title":"ΔTstance (ms)"},
      "fill":{"field":"leg","type":"nominal","sort":["FR","FL","RR","RL"],"scale":{"range":["#0072BD","#D95319","#EDB120","#7E2F8E"]},"legend":{"title":null,"legendX":2520,"legendY":-1,"symbolType":"circle","symbolSize":1000,"symbolStrokeWidth":15,"symbolStrokeColor":"black","symbolOffset":0,"labelExpr":"' '","labelOpacity":0,"strokeColor":"rgba(0,0,0,0)","fillColor":"rgba(0,0,0,0)","zindex":2}}}}
   ]},
  {"width":2462,"height":456,
   "title":{"text":"Footstep Residual - Y","offset":-29},
   "layer":[
    {"data":{"name":"phases"},"transform":[{"filter":"datum.phase == 'stand'"}],"mark":{"type":"rect","color":"#268226","opacity":0.12},
     "encoding":{"x":{"field":"t0","type":"quantitative","title":null,"scale":{"domain":[0,12],"nice":false},"axis":{"values":[0,2,4,6,8,10,12],"labels":false,"title":null}},"x2":{"field":"t1"}}},
    {"data":{"name":"phases"},"transform":[{"filter":"datum.phase == 'walk'"}],"mark":{"type":"rect","color":"#1e1e82","opacity":0.12},
     "encoding":{"x":{"field":"t0","type":"quantitative","title":null},"x2":{"field":"t1"}}},
    {"data":{"name":"foot_fr"},"mark":{"type":"line","strokeWidth":13,"interpolate":"step-after"},
     "encoding":{"x":{"field":"t","type":"quantitative","title":null},
      "y":{"field":"v","type":"quantitative","title":"δpf,res (m)","scale":{"domain":[-0.05,0.05],"nice":false},"axis":{"values":[-0.05,0,0.05],"title":"δpf,res (m)","titleFontSize":100,"titlePadding":66,"labelExpr":"datum.value == 0 ? '0' : replace(format(datum.value, '.2f'), '\u2212', '-')"}},
      "color":{"datum":"FR","scale":{"domain":["FR","FL"],"range":["#0072BD","#D95319"]},"legend":{"title":null,"legendX":2502,"legendY":105}}}},
    {"data":{"name":"foot_fl"},"mark":{"type":"line","strokeWidth":13,"interpolate":"step-after"},
     "encoding":{"x":{"field":"t","type":"quantitative","title":null},"y":{"field":"v","type":"quantitative","title":"δpf,res (m)"},"color":{"datum":"FL"}}}
   ]},
  {"width":2462,"height":453,
   "title":{"text":"Residual Dynamics","offset":-73},
   "layer":[
    {"data":{"name":"phases"},"transform":[{"filter":"datum.phase == 'stand'"}],"mark":{"type":"rect","color":"#268226","opacity":0.12},
     "encoding":{"x":{"field":"t0","type":"quantitative","title":"time (s)","scale":{"domain":[0,12],"nice":false},"axis":{"values":[0,2,4,6,8,10,12],"title":"time (s)","format":"d"}},"x2":{"field":"t1"}}},
    {"data":{"name":"phases"},"transform":[{"filter":"datum.phase == 'walk'"}],"mark":{"type":"rect","color":"#1e1e82","opacity":0.12},
     "encoding":{"x":{"field":"t0","type":"quantitative","title":"time (s)"},"x2":{"field":"t1"}}},
    {"data":{"name":"dyn_y"},"mark":{"type":"line","strokeWidth":10,"strokeJoin":"round"},
     "encoding":{"x":{"field":"t","type":"quantitative","title":"time (s)"},
      "y":{"field":"v","type":"quantitative","scale":{"domain":[-0.8,0.8],"nice":false},"axis":{"orient":"left","values":[-0.5,0,0.5],"title":"f̂ᵣₑₛ (m/s²)","titlePadding":8,"domainColor":"#0072BD","tickColor":"#0072BD","labelColor":"#0072BD","titleColor":"#0072BD","gridColor":"#0072BD","gridOpacity":0.2,"labelExpr":"datum.value == 0 ? '0' : replace(format(datum.value, '.1f'), '\u2212', '-')"}},
      "color":{"datum":"ÿ","scale":{"domain":["ÿ","ω̇ₓ"],"range":["#0072BD","#D95319"]},"legend":{"title":null,"legendX":2146,"legendY":-90,"labelFontSize":80,"rowPadding":13,"labelFont":"DejaVu Serif","labelFontStyle":"italic"}}}},
    {"data":{"name":"dyn_w"},"mark":{"type":"line","strokeWidth":10,"strokeJoin":"round"},
     "encoding":{"x":{"field":"t","type":"quantitative","title":"time (s)"},
      "y":{"field":"w","type":"quantitative","scale":{"domain":[-400,400],"nice":false},"axis":{"orient":"right","values":[-400,-200,0,200,400],"grid":false,"title":"f̂ᵣₑₛ (rad/s²)","titleAngle":-90,"titleBaseline":"top","titlePadding":40,"domainColor":"#D95319","tickColor":"#D95319","labelColor":"#D95319","titleColor":"#D95319","labelExpr":"replace(format(datum.value, 'd'), '\u2212', '-')"}},
      "color":{"datum":"ω̇ₓ"}}}
   ],
   "resolve":{"scale":{"y":"independent"}}}
],
"spacing":168,"bounds":"flush",
"resolve":{"scale":{"color":"independent","fill":"independent","x":"independent","y":"independent"},"legend":{"color":"independent","fill":"independent"}}
}
